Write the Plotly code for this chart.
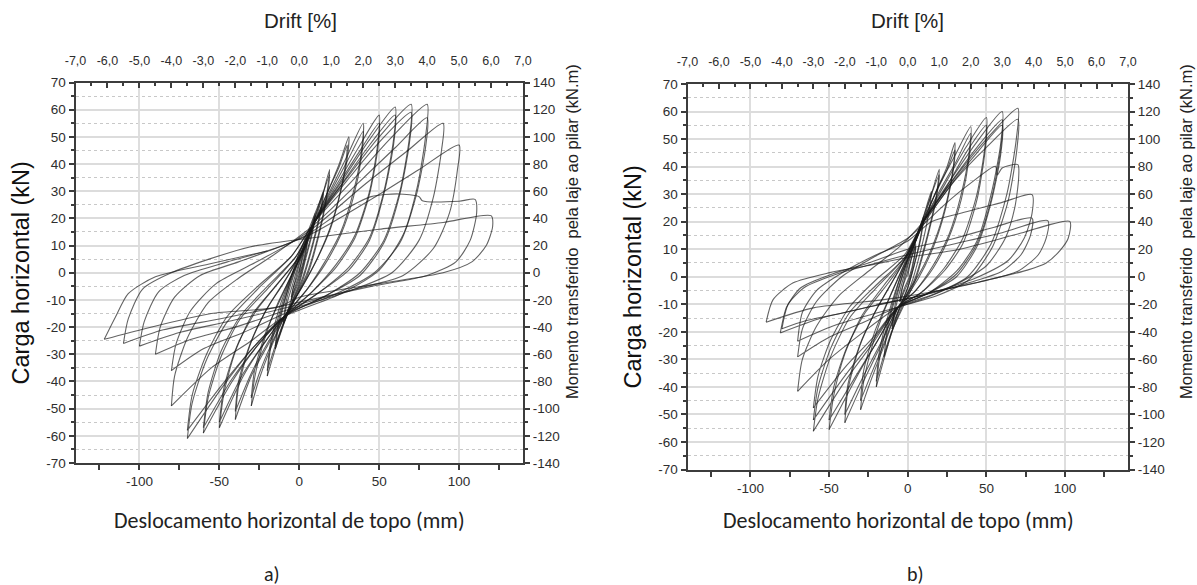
import plotly.graph_objects as go

W, H = 1197, 585

# Ensaio a) - ciclos de histerese: deslocamento de topo (mm), carga horizontal (kN)
ciclos_a = [
    [(2, 6), (5, 12), (4, 8), (1, 1), (-2, -4), (-5, -10)],
    [(-4, -6), (-1, -1), (2, 5), (5, 11), (4, 7), (1, 0), (-2, -5), (-5, -9)],
    [(-3, -4), (0, 3), (5, 12), (10, 22), (8, 15), (4, 6), (0, -3), (-5, -10), (-10, -19)],
    [(-8, -12), (-4, -4), (0, 4), (5, 12), (10, 21), (8, 14), (4, 5), (0, -4), (-5, -11), (-10, -18)],
    [(-8, -10), (-3, 0), (3, 10), (9, 19), (15, 30), (13, 22), (8, 10), (2, -2), (-6, -13), (-15, -28)],
    [(-13, -20), (-8, -8), (-2, 4), (6, 16), (15, 29), (13, 21), (8, 9), (2, -3), (-6, -13), (-15, -27)],
    [(-13, -18), (-7, -6), (0, 5), (8, 16), (13, 25), (19, 38), (17, 28), (12, 14), (5, 0), (-3, -10), (-10, -19), (-20, -38)],
    [(-18, -28), (-12, -14), (-4, 0), (5, 12), (12, 24), (19, 36), (17, 27), (12, 13), (5, -1), (-3, -10), (-11, -20), (-20, -36)],
    [(-18, -26), (-12, -12), (-4, 0), (5, 11), (10, 19), (18, 30), (25, 40), (31, 50), (30, 42), (26, 30), (20, 17), (12, 6), (3, -4), (-9, -16), (-18, -28), (-25, -39), (-30, -49)],
    [(-28, -39), (-22, -25), (-14, -12), (-4, 0), (5, 11), (10, 19), (18, 30), (25, 39), (30, 47), (29, 40), (25, 28), (19, 16), (11, 5), (2, -5), (-9, -16), (-18, -27), (-25, -37), (-30, -46)],
    [(-28, -36), (-21, -22), (-12, -10), (-2, 3), (10, 19), (20, 31), (30, 43), (40, 55), (39, 45), (34, 30), (26, 15), (16, 4), (5, -6), (-9, -16), (-20, -27), (-30, -38), (-40, -54)],
    [(-38, -42), (-31, -27), (-21, -14), (-10, -4), (0, 6), (10, 19), (20, 30), (30, 41), (40, 52), (39, 43), (34, 28), (26, 14), (16, 3), (5, -6), (-9, -16), (-20, -26), (-30, -37), (-40, -51)],
    [(-38, -40), (-30, -25), (-19, -12), (-6, 0), (10, 19), (24, 33), (37, 46), (50, 58), (49, 47), (44, 30), (35, 14), (23, 3), (8, -7), (-9, -16), (-22, -26), (-35, -38), (-50, -57)],
    [(-47, -44), (-40, -29), (-29, -15), (-15, -5), (0, 6), (10, 19), (24, 32), (37, 44), (50, 55), (49, 45), (44, 29), (35, 13), (23, 2), (8, -7), (-9, -16), (-22, -26), (-35, -37), (-50, -55)],
    [(-47, -42), (-39, -27), (-27, -14), (-12, -3), (0, 6), (10, 19), (27, 34), (44, 49), (60, 61), (59, 49), (53, 30), (44, 13), (31, 2), (13, -7), (-9, -16), (-25, -26), (-42, -40), (-60, -59)],
    [(-57, -46), (-49, -31), (-37, -17), (-20, -6), (-2, 6), (10, 19), (27, 33), (44, 47), (60, 58), (59, 47), (53, 29), (44, 12), (31, 1), (13, -7), (-9, -16), (-25, -26), (-42, -39), (-60, -57)],
    [(-57, -44), (-49, -29), (-37, -16), (-20, -5), (-2, 6), (10, 19), (30, 35), (50, 50), (70, 62), (69, 50), (63, 30), (53, 12), (38, 0), (18, -8), (-9, -16), (-28, -27), (-48, -42), (-70, -61)],
    [(-67, -48), (-58, -32), (-45, -18), (-26, -6), (-5, 6), (10, 19), (30, 34), (50, 48), (70, 59), (69, 48), (63, 29), (53, 11), (38, -1), (18, -8), (-9, -16), (-28, -27), (-48, -41), (-70, -58)],
    [(-67, -45), (-58, -30), (-45, -16), (-26, -5), (-5, 6), (10, 19), (35, 35), (58, 50), (80, 62), (79, 50), (74, 32), (65, 14), (50, 1), (25, -8), (-9, -16), (-30, -25), (-55, -35), (-80, -49)],
    [(-78, -38), (-70, -24), (-57, -11), (-38, -2), (-15, 7), (10, 18), (35, 32), (60, 46), (80, 57), (79, 46), (73, 28), (63, 11), (47, 0), (22, -8), (-9, -15), (-35, -22), (-60, -28), (-80, -36)],
    [(-77, -26), (-68, -14), (-52, -4), (-30, 3), (-5, 11), (10, 17), (40, 32), (68, 45), (90, 55), (89, 45), (84, 28), (75, 12), (58, 0), (30, -7), (-9, -14), (-40, -20), (-70, -25), (-90, -30)],
    [(-87, -20), (-78, -9), (-62, -1), (-38, 4), (-10, 10), (10, 15), (45, 27), (75, 38), (100, 47), (99, 38), (94, 22), (84, 9), (65, -1), (35, -6), (-9, -13), (-45, -18), (-75, -22), (-100, -27)],
    [(-97, -18), (-88, -7), (-72, -1), (-45, 4), (-15, 9), (5, 14), (25, 22), (45, 28), (62, 29), (75, 28), (77, 26.5), (100, 26.3), (110, 27), (111, 22), (107, 12), (98, 4), (80, -1), (45, -5), (-9, -12), (-50, -17), (-85, -21), (-110, -26)],
    [(-107, -17), (-98, -6), (-80, 0), (-31, 9.5), (10, 13), (50, 16), (90, 18.5), (120, 21), (121, 17), (117, 10), (108, 4), (90, 0), (50, -4), (0, -9), (-13, -12.6), (-55, -15), (-96, -20.5), (-122, -24.5)],
    [(-115, -16.3), (-107, -7.7), (-90, -1.5), (-55, 3.4), (-20, 8)],
]

# Ensaio b) - ciclos de histerese: deslocamento de topo (mm), carga horizontal (kN)
ciclos_b = [
    [(2, 6), (5, 12), (4, 7), (1, 0), (-2, -4), (-5, -9)],
    [(-4, -5), (-1, 0), (2, 6), (5, 11), (4, 6), (1, -1), (-2, -5), (-5, -9)],
    [(-3, -3), (0, 4), (5, 13), (10, 22), (8, 14), (4, 4), (0, -4), (-5, -11), (-10, -19)],
    [(-8, -12), (-4, -3), (0, 5), (5, 13), (10, 21), (8, 13), (4, 4), (0, -4), (-5, -11), (-10, -18)],
    [(-8, -10), (-3, 1), (3, 11), (9, 20), (15, 31), (13, 22), (8, 9), (2, -3), (-6, -13), (-15, -29)],
    [(-13, -19), (-7, -6), (0, 6), (8, 17), (13, 26), (20, 39), (18, 29), (12, 14), (5, 0), (-3, -10), (-10, -20), (-20, -40)],
    [(-18, -30), (-12, -15), (-4, 1), (5, 13), (12, 25), (20, 37), (18, 28), (12, 13), (5, -1), (-3, -11), (-11, -21), (-20, -38)],
    [(-18, -27), (-12, -13), (-4, 1), (5, 13), (10, 20), (18, 31), (25, 40), (30, 48.7), (29, 40), (25, 28), (19, 16), (11, 5), (2, -4), (-6, -11), (-15, -25), (-23, -37), (-30, -48.3)],
    [(-28, -38), (-22, -24), (-14, -11), (-4, 2), (5, 13), (10, 20), (18, 31), (25, 39), (30, 46), (29, 39), (25, 27), (19, 15), (11, 4), (2, -5), (-6, -11), (-15, -24), (-23, -35), (-30, -45)],
    [(-28, -34), (-21, -20), (-12, -8), (-2, 5), (10, 21), (20, 33), (30, 44), (40, 54.5), (39, 45), (34, 30), (26, 15), (16, 4), (5, -5), (-6, -11), (-18, -26), (-29, -39), (-40, -53)],
    [(-38, -41), (-31, -26), (-21, -13), (-10, -2), (0, 8), (10, 20), (20, 31), (30, 41), (40, 52), (39, 43), (34, 28), (26, 14), (16, 3), (5, -5), (-6, -11), (-18, -25), (-29, -37), (-40, -50)],
    [(-38, -39), (-30, -24), (-19, -11), (-6, 2), (10, 20), (24, 34), (37, 47), (50, 57.8), (49, 47), (44, 30), (35, 14), (23, 3), (8, -6), (-6, -11), (-20, -24), (-34, -38), (-50, -55.5)],
    [(-47, -43), (-40, -28), (-29, -14), (-15, -3), (0, 8), (10, 20), (24, 32), (37, 45), (50, 55), (49, 45), (44, 28), (35, 12), (23, 2), (8, -6), (-6, -11), (-20, -24), (-34, -37), (-50, -52)],
    [(-47, -40), (-39, -26), (-27, -13), (-12, -2), (0, 8), (10, 20), (27, 35), (44, 49), (60, 60), (59, 48), (53, 30), (44, 13), (31, 2), (13, -6), (-6, -11), (-22, -24), (-40, -38), (-60, -56.1)],
    [(-57, -44), (-49, -29), (-37, -15), (-20, -4), (-2, 7), (10, 20), (27, 34), (44, 47), (60, 57), (59, 46), (53, 28), (44, 12), (31, 1), (13, -6), (-6, -11), (-22, -23), (-40, -36), (-60, -52)],
    [(-57, -40), (-49, -26), (-37, -13), (-20, -3), (-2, 7), (10, 19), (27, 33), (44, 45), (60, 55), (59, 44), (53, 27), (44, 11), (31, 0), (13, -6), (-6, -11), (-22, -22), (-40, -33), (-60, -47.6)],
    [(-57, -36), (-49, -23), (-37, -11), (-20, -1), (-2, 8), (10, 20), (30, 36), (50, 50), (70, 61.2), (69, 50), (63, 30), (53, 12), (38, 0), (18, -6), (-6, -11), (-28, -20), (-50, -30), (-70, -41.6)],
    [(-67, -30), (-58, -18), (-44, -7), (-25, 2), (-5, 11), (10, 20), (30, 35), (50, 47), (70, 57.2), (69.5, 47), (64, 28), (54, 11), (39, -1), (18, -7), (-6, -11), (-30, -17), (-50, -22), (-70, -29.1)],
    [(-67, -19), (-58, -9), (-42, 0), (-22, 7), (0, 14), (10, 19), (25, 27), (40, 34), (55.7, 40.1), (57, 37), (60, 39.5), (70, 40.7), (70.5, 36), (68, 25), (62, 14), (50, 4), (30, -3), (10, -8), (-6, -11), (-25, -14), (-48, -18), (-70, -23.4)],
    [(-67, -13), (-58, -5), (-40, 2), (-20, 8), (0, 13), (15, 20), (33, 23), (60, 27), (79, 29.8), (79, 23), (74, 14), (64, 6), (45, 0), (20, -5), (0, -8), (-25, -11), (-55, -15), (-81, -20.4)],
    [(-77, -11), (-68, -4), (-48, 1), (-25, 5), (0, 10), (30, 14), (55, 18), (79, 21.3), (78, 15), (72, 8), (60, 2), (40, -2), (15, -6), (-10, -9), (-40, -13), (-65, -16), (-80, -18.9)],
    [(-76, -10), (-66, -4), (-45, 1), (-20, 5), (0, 8), (30, 12), (60, 16), (89, 20.4), (88, 14), (83, 8), (70, 2), (45, -2), (20, -5), (-5, -7.5), (-17.6, -8.5), (-60, -11.3), (-90, -16.5)],
    [(-85.6, -8.3), (-72.8, -2.2), (-49.5, 1.5), (-26, 4), (0, 7), (33, 10), (70, 15.5), (103, 20.1), (102, 14), (97, 9.7), (88, 5), (76, 2.4), (46, -1.8), (20, -5), (0, -8), (-20, -10)],
]

# Escalas dos eixos
carga_ticks = list(range(-70, 71, 10))
momento_ticks = list(range(-140, 141, 20))
desloc_ticks = [-100, -50, 0, 50, 100]
drift_ticks = list(range(-7, 8))


def rotulo(v):
    return str(v)


def rotulo_drift(v):
    return f"{v:.1f}".replace(".", ",")


FONTE = "Liberation Sans Narrow, Arial Narrow, Liberation Sans, Arial, sans-serif"
FONTE_TITULO = "Liberation Sans, Arial, sans-serif"
FONTE_X = "Carlito, Calibri, Noto Sans, sans-serif"
COR_EIXO = "#3c3c3c"
COR_TEXTO = "#2e2e2e"
COR_LINHA = "rgba(25,25,25,0.68)"

fig = go.Figure()


def add_ciclos(ciclos, xa, ya):
    anterior = (0.0, 0.0)
    for ciclo in ciclos:
        pts = [anterior] + list(ciclo)
        fig.add_trace(go.Scatter(
            x=[p[0] for p in pts], y=[p[1] for p in pts], mode="lines",
            line=dict(color=COR_LINHA, width=1.1, shape="spline", smoothing=0.7),
            xaxis=xa, yaxis=ya, hoverinfo="skip", showlegend=False))
        anterior = ciclo[-1]


add_ciclos(ciclos_a, "x", "y")
add_ciclos(ciclos_b, "x3", "y3")

# traços invisíveis para ativar os eixos secundários
for xa, ya in [("x2", "y"), ("x", "y2"), ("x4", "y3"), ("x3", "y4")]:
    fig.add_trace(go.Scatter(x=[0], y=[0], mode="markers", marker=dict(opacity=0),
                             xaxis=xa, yaxis=ya, hoverinfo="skip", showlegend=False))


def fx(px):
    return px / W


def fy(py):
    return 1 - py / H


def eixos(n, left, right, top, bottom, standoff_y):
    xd = [fx(left), fx(right)]
    yd = [fy(bottom), fy(top)]
    xb, xt = f"xaxis{'' if n == 1 else 2 * n - 1}", f"xaxis{2 * n}"
    yl, yr = f"yaxis{'' if n == 1 else 2 * n - 1}", f"yaxis{2 * n}"
    xb_id = "x" if n == 1 else f"x{2 * n - 1}"
    yl_id = "y" if n == 1 else f"y{2 * n - 1}"
    tick_font = dict(family=FONTE, size=13.5, color=COR_TEXTO)
    lay = {}
    lay[xb] = dict(
        domain=xd, anchor=yl_id, range=[-140, 140],
        tickmode="array", tickvals=desloc_ticks, ticktext=[rotulo(v) for v in desloc_ticks],
        ticks="outside", ticklen=5, tickwidth=1.5, tickcolor=COR_EIXO,
        minor=dict(tickmode="linear", tick0=25, dtick=50, ticks="outside", ticklen=5,
                   tickwidth=1.5, tickcolor=COR_EIXO, showgrid=False),
        showline=True, linecolor=COR_EIXO, linewidth=2,
        showgrid=True, gridcolor="#dedede", gridwidth=1.5, zeroline=False,
        tickfont=tick_font, fixedrange=True, automargin=False)
    lay[xt] = dict(
        overlaying=xb_id, anchor=yl_id, side="top", range=[-7, 7],
        tickmode="array", tickvals=drift_ticks, ticktext=[rotulo_drift(v) for v in drift_ticks],
        ticks="inside", ticklen=5, tickwidth=1.5, tickcolor=COR_EIXO,
        minor=dict(tickmode="linear", tick0=0.5, dtick=1, ticks="inside", ticklen=3,
                   tickwidth=1.5, tickcolor=COR_EIXO, showgrid=False),
        showline=True, linecolor=COR_EIXO, linewidth=2, showgrid=False, zeroline=False,
        ticklabelstandoff=11,
        tickfont=dict(family=FONTE, size=12.5, color=COR_TEXTO), fixedrange=True,
        automargin=False)
    lay[yl] = dict(
        domain=yd, anchor=xb_id, range=[-70, 70],
        tickmode="array", tickvals=carga_ticks, ticktext=[rotulo(v) for v in carga_ticks],
        ticks="outside", ticklen=5, tickwidth=1.5, tickcolor=COR_EIXO,
        minor=dict(tickmode="linear", tick0=5, dtick=10, ticks="outside", ticklen=3,
                   tickwidth=1.5, tickcolor=COR_EIXO, showgrid=True,
                   gridcolor="#c8c8c8", griddash="dot", gridwidth=1),
        showline=True, linecolor=COR_EIXO, linewidth=2,
        showgrid=True, gridcolor="#dcdcdc", gridwidth=2, zeroline=False,
        title=dict(text="Carga horizontal (kN)", standoff=standoff_y,
                   font=dict(family=FONTE_TITULO, size=23.5, color="#111")),
        tickfont=tick_font, fixedrange=True, automargin=False)
    lay[yr] = dict(
        overlaying=yl_id, anchor=xb_id, side="right", range=[-140, 140],
        tickmode="array", tickvals=momento_ticks, ticktext=[rotulo(v) for v in momento_ticks],
        ticks="outside", ticklen=5, tickwidth=1.5, tickcolor=COR_EIXO,
        minor=dict(tickmode="linear", tick0=10, dtick=20, ticks="outside", ticklen=3,
                   tickwidth=1.5, tickcolor=COR_EIXO, showgrid=False),
        showline=True, linecolor=COR_EIXO, linewidth=2, showgrid=False, zeroline=False,
        tickfont=tick_font, fixedrange=True, automargin=False)
    return lay


layout = dict(
    width=W, height=H, margin=dict(l=0, r=0, t=0, b=0),
    paper_bgcolor="white", plot_bgcolor="white", showlegend=False,
)
layout.update(eixos(1, 75.5, 523, 82.5, 463, 10))
layout.update(eixos(2, 687.5, 1128, 84, 469.5, 10))


def texto(t, x, y, size, family=FONTE_TITULO, angle=0, color="#222"):
    return dict(text=t, x=fx(x), y=fy(y), xref="paper", yref="paper", showarrow=False,
                xanchor="center", yanchor="middle", textangle=angle,
                font=dict(family=family, size=size, color=color))


anots = []
paineis = [
    # centro do eixo, título dir., rótulo, centro título x, posição do rótulo
    (300, 572, "a)", 289, 272),
    (907, 1186, "b)", 898, 915),
]
for cx, yr_x, sub, xt_cx, sub_x in paineis:
    anots.append(texto("Drift [%]", cx, 21, 20.5))
    anots.append(texto("Momento transferido  pela laje ao pilar (kN.m)", yr_x, 232, 16.5, angle=-90))
    anots.append(texto("Deslocamento horizontal de topo (mm)", xt_cx, 520, 22, family=FONTE_X))
    anots.append(texto(sub, sub_x, 574, 20, family=FONTE_X))
layout["annotations"] = anots

fig.update_layout(**layout)
fig.write_html("out.html")
